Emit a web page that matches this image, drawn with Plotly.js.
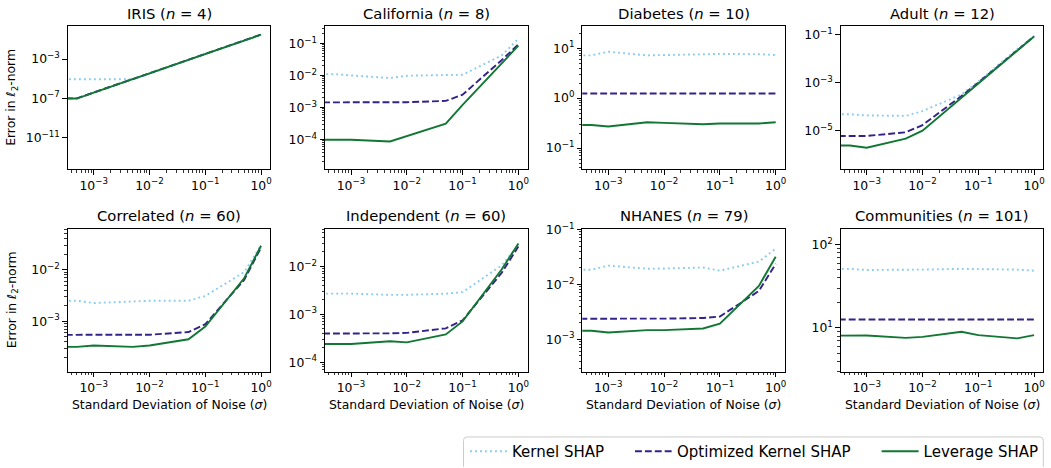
<!DOCTYPE html>
<html><head><meta charset="utf-8">
<script src="https://cdn.plot.ly/plotly-3.0.1.min.js"></script>
<style>html,body{margin:0;padding:0;background:#fff}#chart{width:1051px;height:468px}</style>
</head><body><div id="chart"></div><script>
// ---------------- DATA ----------------
const sigma = [0, 0.0005, 0.001, 0.005, 0.01, 0.05, 0.1, 0.5, 1];
const datasetNames = ['IRIS', 'California', 'Diabetes', 'Adult', 'Correlated', 'Independent', 'NHANES', 'Communities'];
const featureCounts = [4, 8, 10, 12, 60, 60, 79, 101];
const methodNames = ['Kernel SHAP', 'Optimized Kernel SHAP', 'Leverage SHAP'];

const irisKernel      = [8.5e-6, 8.5e-6, 8.5e-6, 8.8e-6, 3.0e-5, 9.5e-4, 3.5e-3, 7.5e-2, 0.27];
const irisOptimized   = [1.0e-7, 1.0e-7, 3.9e-7, 9.3e-6, 3.6e-5, 8.7e-4, 3.4e-3, 8.1e-2, 0.32];
const irisLeverage    = [9.5e-8, 9.5e-8, 3.8e-7, 9.2e-6, 3.6e-5, 8.6e-4, 3.4e-3, 8.0e-2, 0.31];

const califKernel     = [1.1e-2, 1.1e-2, 1.0e-2, 8.3e-3, 9.8e-3, 1.0e-2, 1.05e-2, 4.2e-2, 0.14];
const califOptimized  = [1.4e-3, 1.4e-3, 1.4e-3, 1.4e-3, 1.45e-3, 1.6e-3, 2.5e-3, 3.0e-2, 9.3e-2];
const califLeverage   = [1.0e-4, 1.0e-4, 9.7e-5, 8.6e-5, 1.25e-4, 3.1e-4, 1.2e-3, 2.4e-2, 8.5e-2];

const diabKernel      = [7.2, 7.2, 8.5, 7.2, 7.3, 7.7, 7.7, 7.6, 7.3];
const diabOptimized   = [1.24, 1.24, 1.24, 1.24, 1.25, 1.25, 1.27, 1.25, 1.24];
const diabLeverage    = [0.29, 0.29, 0.27, 0.33, 0.32, 0.30, 0.31, 0.31, 0.33];

const adultKernel     = [4.8e-5, 4.8e-5, 4.3e-5, 4.1e-5, 6.5e-5, 3.2e-4, 1.1e-3, 2.5e-2, 8.5e-2];
const adultOptimized  = [5.7e-6, 5.7e-6, 6.0e-6, 8.5e-6, 1.7e-5, 2.75e-4, 1.0e-3, 2.2e-2, 8.5e-2];
const adultLeverage   = [2.4e-6, 2.4e-6, 1.95e-6, 4.6e-6, 1.0e-5, 2.3e-4, 9.0e-4, 2.1e-2, 8.3e-2];

const corrKernel      = [2.5e-3, 2.5e-3, 2.26e-3, 2.45e-3, 2.5e-3, 2.5e-3, 3.1e-3, 9.0e-3, 3.0e-2];
const corrOptimized   = [5.4e-4, 5.4e-4, 5.4e-4, 5.4e-4, 5.5e-4, 6.2e-4, 8.8e-4, 6.4e-3, 2.7e-2];
const corrLeverage    = [3.2e-4, 3.2e-4, 3.4e-4, 3.2e-4, 3.4e-4, 4.5e-4, 7.9e-4, 6.9e-3, 2.9e-2];

const indepKernel     = [2.7e-3, 2.7e-3, 2.7e-3, 2.55e-3, 2.55e-3, 2.7e-3, 2.9e-3, 1.05e-2, 2.8e-2];
const indepOptimized  = [3.9e-4, 3.9e-4, 3.9e-4, 4.0e-4, 4.1e-4, 5.1e-4, 7.5e-4, 7.3e-3, 2.6e-2];
const indepLeverage   = [2.4e-4, 2.4e-4, 2.4e-4, 2.75e-4, 2.6e-4, 3.8e-4, 7.1e-4, 8.6e-3, 3.0e-2];

const nhanesKernel    = [1.85e-2, 1.85e-2, 2.2e-2, 1.93e-2, 1.95e-2, 2.03e-2, 1.78e-2, 2.6e-2, 4.5e-2];
const nhanesOptimized = [2.37e-3, 2.37e-3, 2.37e-3, 2.37e-3, 2.38e-3, 2.45e-3, 2.6e-3, 7.6e-3, 2.37e-2];
const nhanesLeverage  = [1.43e-3, 1.43e-3, 1.33e-3, 1.47e-3, 1.47e-3, 1.58e-3, 1.93e-3, 9.4e-3, 3.2e-2];

const commKernel      = [51, 51, 49.5, 49.5, 50, 51, 50.5, 50, 48.5];
const commOptimized   = [12.6, 12.6, 12.6, 12.6, 12.6, 12.6, 12.6, 12.6, 12.6];
const commLeverage    = [8.0, 8.0, 8.1, 7.6, 7.8, 9.0, 8.2, 7.5, 8.2];

const xTickExponents = [-3, -2, -1, 0];
const yTickExponents = [[-3, -7, -11], [-1, -2, -3, -4], [1, 0, -1], [-1, -3, -5], [-2, -3], [-2, -3, -4], [-1, -2, -3], [2, 1]];

const seriesByDataset = [
  [irisKernel, irisOptimized, irisLeverage],
  [califKernel, califOptimized, califLeverage],
  [diabKernel, diabOptimized, diabLeverage],
  [adultKernel, adultOptimized, adultLeverage],
  [corrKernel, corrOptimized, corrLeverage],
  [indepKernel, indepOptimized, indepLeverage],
  [nhanesKernel, nhanesOptimized, nhanesLeverage],
  [commKernel, commOptimized, commLeverage]
];

// ---------------- STYLE / LAYOUT ----------------
const W = 1051, H = 468;
const FONT = 'DejaVu Sans, Liberation Sans, sans-serif';
const SIGMA_ZERO_AT = 1e-9; // where sigma = 0 sits on the log axis (off to the left)
const colors = ['#88CCEE', '#332288', '#117733'];
const dashes = ['1.9px,3.1px', '6.9px,3px', 'solid'];
const colLeft = [67.7, 325.0, 582.3, 840.7];
const axW = 202.6;
const rowTop = [26.9, 233.3];
const axH = 145.7;
const xRange = [-3.466, 0.165];
const yRanges = [[-14.23, 0.333], [-4.935, -0.466], [-1.425, 1.438], [-6.61, -0.66],
                 [-3.975, -1.209], [-4.198, -1.215], [-3.589, -0.988], [0.475, 2.188]];
const yMinor = [false, true, true, false, true, true, true, true];

function powLabel(e) { return '10<sup>' + (e < 0 ? '\u2212' : '') + Math.abs(e) + '</sup>'; }
function minorVals(r) {
  const out = [];
  for (let d = Math.floor(r[0]); d <= Math.ceil(r[1]); d++) {
    for (let m = 2; m <= 9; m++) {
      const v = m * Math.pow(10, d);
      const lv = Math.log10(v);
      if (lv > r[0] && lv < r[1]) out.push(v);
    }
  }
  return out;
}
const px = v => v / W;
const py = v => 1 - v / H;

const traces = [];
const layout = {
  width: W, height: H,
  margin: {l: 0, r: 0, t: 0, b: 0},
  paper_bgcolor: '#ffffff', plot_bgcolor: '#ffffff',
  font: {family: FONT, color: '#000000', size: 12.4},
  annotations: [], shapes: []
};

const xPlot = sigma.map(s => s > 0 ? s : SIGMA_ZERO_AT);

datasetNames.forEach((name, k) => {
  const n = k + 1;
  const sfx = n === 1 ? '' : String(n);
  const col = k % 4, row = Math.floor(k / 4);
  const x0 = px(colLeft[col]), x1 = px(colLeft[col] + axW);
  const yTop = py(rowTop[row]), yBot = py(rowTop[row] + axH);

  seriesByDataset[k].forEach((vals, m) => {
    traces.push({
      x: xPlot, y: vals, type: 'scatter', mode: 'lines',
      xaxis: 'x' + sfx, yaxis: 'y' + sfx,
      name: methodNames[m],
      legend: m === 0 ? 'legend' : 'legend' + (m + 1),
      showlegend: k === 0,
      line: {color: colors[m], width: 1.9, dash: dashes[m]},
      hoverinfo: 'skip'
    });
  });

  const common = {
    type: 'log', showgrid: false, zeroline: false,
    showline: true, linecolor: '#000000', linewidth: 1, mirror: true,
    ticks: 'outside', ticklen: 4.4, tickwidth: 1, tickcolor: '#000000',
    tickfont: {family: FONT, size: 12.4, color: '#000000'},
    tickmode: 'array', automargin: false, fixedrange: true
  };
  layout['xaxis' + sfx] = Object.assign({}, common, {
    domain: [x0, x1], anchor: 'y' + sfx, range: xRange,
    tickvals: xTickExponents.map(e => Math.pow(10, e)),
    ticktext: xTickExponents.map(powLabel),
    minor: {tickmode: 'array', tickvals: minorVals(xRange), ticks: 'outside', ticklen: 2.5, tickwidth: 0.8, tickcolor: '#000000', showgrid: false}
  });
  const yax = Object.assign({}, common, {
    domain: [yBot, yTop], anchor: 'x' + sfx, range: yRanges[k],
    tickvals: yTickExponents[k].map(e => Math.pow(10, e)),
    ticktext: yTickExponents[k].map(powLabel)
  });
  if (yMinor[k]) {
    yax.minor = {tickmode: 'array', tickvals: minorVals(yRanges[k]), ticks: 'outside', ticklen: 2.5, tickwidth: 0.8, tickcolor: '#000000', showgrid: false};
  }
  layout['yaxis' + sfx] = yax;

  layout.annotations.push({
    text: name + ' (<i>n</i> = ' + featureCounts[k] + ')',
    xref: 'paper', yref: 'paper', x: (x0 + x1) / 2, y: py(rowTop[row] - 13.5),
    xanchor: 'center', yanchor: 'middle', showarrow: false,
    font: {family: FONT, size: 14.8, color: '#000000'}
  });
  if (col === 0) {
    layout.annotations.push({
      text: 'Error in <i>\u2113</i><sub>2</sub>-norm',
      xref: 'paper', yref: 'paper', x: px(12), y: (yTop + yBot) / 2,
      xanchor: 'center', yanchor: 'middle', textangle: -90, showarrow: false,
      font: {family: FONT, size: 12.4, color: '#000000'}
    });
  }
  if (row === 1) {
    layout.annotations.push({
      text: 'Standard Deviation of Noise (<i>\u03c3</i>)',
      xref: 'paper', yref: 'paper', x: (x0 + x1) / 2, y: py(412),
      xanchor: 'center', yanchor: 'middle', showarrow: false,
      font: {family: FONT, size: 12.4, color: '#000000'}
    });
  }
});

// Legend: one legend per entry so spacing follows the reference, plus a rounded frame
const legendX = [465, 630, 876.6];
['legend', 'legend2', 'legend3'].forEach((id, i) => {
  layout[id] = {
    x: px(legendX[i]), xanchor: 'left', y: py(443.5), yanchor: 'top',
    orientation: 'h', bgcolor: 'rgba(0,0,0,0)', borderwidth: 0,
    itemwidth: 37, font: {family: FONT, size: 15, color: '#000000'}
  };
});
(function () {
  const L = 463.5, R = 1043.3, T = 445.5, B = 476, r = 3.5;
  const path = 'M' + px(L) + ',' + py(B) +
    ' L' + px(L) + ',' + py(T + r) +
    ' Q' + px(L) + ',' + py(T) + ' ' + px(L + r) + ',' + py(T) +
    ' L' + px(R - r) + ',' + py(T) +
    ' Q' + px(R) + ',' + py(T) + ' ' + px(R) + ',' + py(T + r) +
    ' L' + px(R) + ',' + py(B);
  layout.shapes.push({
    type: 'path', xref: 'paper', yref: 'paper', path: path,
    line: {color: '#cccccc', width: 1}, fillcolor: 'rgba(0,0,0,0)', layer: 'above'
  });
})();

Plotly.newPlot('chart', traces, layout, {staticPlot: true, displayModeBar: false});
</script></body></html>
